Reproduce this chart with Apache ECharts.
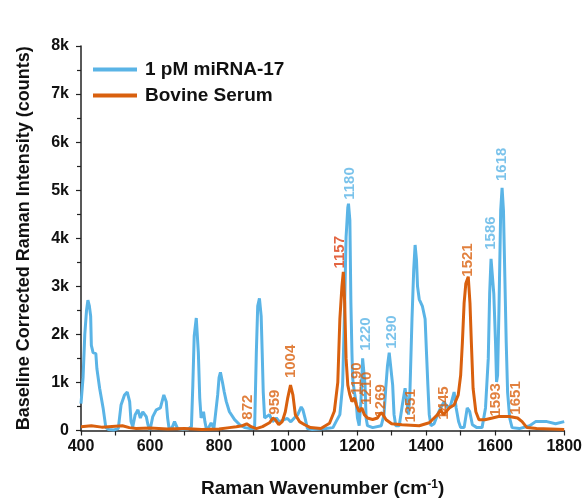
<!DOCTYPE html>
<html>
<head>
<meta charset="utf-8">
<script src="https://cdn.jsdelivr.net/npm/echarts@6/dist/echarts.min.js"></script>
<style>
html,body{margin:0;padding:0;background:#fff;}
#chart{width:585px;height:503px;}
</style>
</head>
<body>
<div id="chart"></div>
<script>
// ---- data ----
const seriesNames = ['1 pM miRNA-17', 'Bovine Serum'];

const miRNAWavenumber = [400,406,411,416,420,424,428,430,435,440,443,446,454,464,472,480,495,508,516,526,534,541,545,550,557,565,572,579,589,594,600,608,618,630,640,647,651,655,664,671,680,695,710,720,724,728,734,740,744,748,755,759,763,770,777,785,790,796,800,804,810,815,821,830,845,860,875,890,903,908,912,917,922,925,928,932,937,946,955,966,975,990,998,1008,1018,1028,1038,1043,1050,1056,1070,1090,1110,1130,1139,1150,1158,1163,1168,1173,1175,1179,1182,1185,1187,1192,1197,1201,1206,1211,1216,1219,1223,1226,1230,1245,1270,1278,1283,1288,1293,1297,1303,1307,1312,1322,1331,1339,1343,1349,1353,1359,1364,1368,1372,1375,1380,1389,1397,1401,1405,1409,1414,1423,1433,1442,1452,1462,1471,1481,1487,1494,1500,1510,1519,1526,1534,1547,1562,1572,1580,1584,1588,1592,1596,1601,1604,1607,1611,1616,1620,1624,1628,1632,1636,1642,1649,1670,1700,1717,1750,1775,1800];
const miRNACounts = [560,1100,2000,2500,2710,2600,2380,1770,1620,1580,1600,1290,880,470,60,20,10,40,530,740,800,600,185,80,330,430,260,390,290,120,10,290,430,470,740,600,260,50,60,185,40,20,30,80,945,1970,2340,1620,680,260,390,185,40,60,160,40,30,740,1100,1210,1000,800,600,390,225,120,60,40,40,1620,2590,2750,2380,1620,800,260,260,330,185,260,180,230,250,180,260,330,490,430,230,40,20,30,40,60,185,330,945,2320,4020,4640,4720,4370,2650,1620,1090,800,600,260,100,600,1500,1520,945,260,100,60,100,330,880,1350,1620,1580,945,330,100,100,530,880,840,330,800,2320,3350,3860,3550,3000,2730,2590,2320,1620,945,330,100,140,330,470,600,470,530,800,470,185,60,60,470,400,120,60,60,470,1500,2850,3570,3610,2850,1830,1010,1150,2520,4580,5050,4580,3200,1830,800,260,60,40,100,185,185,140,185];

const serumWavenumber = [400,430,460,500,520,540,560,600,650,700,750,800,830,850,868,880,893,908,926,946,956,962,973,983,992,999,1007,1014,1021,1033,1048,1065,1095,1120,1134,1144,1150,1156,1160,1164,1168,1173,1179,1185,1192,1198,1206,1214,1221,1230,1245,1259,1269,1275,1284,1300,1330,1380,1409,1423,1433,1442,1450,1467,1481,1493,1500,1505,1510,1515,1522,1527,1531,1536,1544,1553,1570,1592,1610,1640,1665,1678,1692,1720,1800];
const serumCounts = [80,100,70,90,100,60,40,50,30,40,20,30,60,80,100,140,80,40,80,160,260,230,120,185,390,680,945,740,330,185,120,60,40,150,400,1000,2320,3000,3300,2650,1500,945,740,600,680,530,390,470,330,260,230,260,370,330,225,140,120,100,160,260,330,430,330,470,530,740,1150,1830,2650,3060,3200,2650,1830,880,390,225,225,260,290,290,260,185,60,40,20];

// peak annotations: text, wavenumber where printed, intensity at label base
const miRNAPeakText = ['1180','1220','1290','1586','1618'];
const miRNAPeakX = [1178,1224,1302,1588,1620];
const miRNAPeakY = [4800,1660,1700,3760,5190];

const serumPeakText = ['872','959','1004','1157','1190','1210','1269','1351','1445','1521','1593','1651'];
const serumPeakX = [883,963,1007,1151,1198,1227,1270,1357,1452,1521,1602,1660];
const serumPeakY = [225,330,1090,3370,740,530,270,165,225,3200,290,330];

const xTicks = [400,600,800,1000,1200,1400,1600,1800];
const yTickLabels = ['0','1k','2k','3k','4k','5k','6k','7k','8k'];

// ---- build ----
const BLUE = '#5AB4E6';
const ORANGE = '#D9600E';
const RED_ORANGE = '#DC3F12';
const FONT = '"Liberation Sans", Arial, sans-serif';

function pairs(xs, ys){ return xs.map((x,i)=>[x, ys[i]]); }
function labelData(xs, ys, txt, special){
  return xs.map((x,i)=>{
    const d = {value:[x, ys[i]], name: txt[i]};
    if (special && special[txt[i]]) d.label = {color: special[txt[i]]};
    return d;
  });
}

const labelStyle = (color) => ({
  show: true,
  position: 'top',
  distance: 0,
  rotate: 90,
  align: 'left',
  verticalAlign: 'middle',
  formatter: p => p.name,
  color: color,
  fontFamily: FONT,
  fontSize: 15,
  fontWeight: 'bold'
});

const chart = echarts.init(document.getElementById('chart'), null, {renderer:'canvas'});
chart.setOption({
  animation: false,
  backgroundColor: '#fff',
  grid: {left: 81, right: 20, top: 46, bottom: 67, containLabel: false},
  legend: {
    data: seriesNames,
    orient: 'vertical',
    left: 88,
    top: 55,
    icon: 'rect',
    itemWidth: 44,
    itemHeight: 4,
    itemGap: 7,
    textStyle: {fontFamily: FONT, fontSize: 19, fontWeight: 'bold', color: '#111', padding: [0,0,0,3]}
  },
  xAxis: {
    type: 'value',
    min: 400, max: 1800, interval: 100,
    name: 'Raman Wavenumber (cm{sup|-1})',
    nameLocation: 'middle',
    nameGap: 48,
    nameTextStyle: {
      fontFamily: FONT, fontSize: 19, fontWeight: 'bold', color: '#111',
      rich: {sup: {fontFamily: FONT, fontSize: 12, fontWeight: 'bold', color: '#111', verticalAlign: 'top', padding:[0,0,8,0]}}
    },
    axisLine: {lineStyle: {color: '#222', width: 1.5}},
    axisTick: {show: true, inside: false, length: 5, lineStyle: {color: '#222', width: 1.2}},
    axisLabel: {
      formatter: v => xTicks.includes(v) ? String(v) : '',
      fontFamily: FONT, fontSize: 16, fontWeight: 'bold', color: '#111', margin: 8
    },
    splitLine: {show: false}
  },
  yAxis: {
    type: 'value',
    min: 0, max: 8000, interval: 1000,
    name: 'Baseline Corrected Raman Intensity (counts)',
    nameLocation: 'middle',
    nameGap: 48,
    nameTextStyle: {fontFamily: FONT, fontSize: 18, fontWeight: 'bold', color: '#111'},
    axisLine: {show: true, lineStyle: {color: '#222', width: 1.5}},
    axisTick: {show: true, length: 5, lineStyle: {color: '#222', width: 1.2}},
    minorTick: {show: true, splitNumber: 2, length: 4, lineStyle: {color: '#222', width: 1.2}},
    axisLabel: {
      formatter: v => yTickLabels[Math.round(v/1000)],
      fontFamily: FONT, fontSize: 16, fontWeight: 'bold', color: '#111', margin: 12
    },
    splitLine: {show: false}
  },
  series: [
    {name: seriesNames[0], type: 'line', data: pairs(miRNAWavenumber, miRNACounts), showSymbol: false, symbol: 'none',
     lineStyle: {color: BLUE, width: 3}, itemStyle: {color: BLUE}, z: 2},
    {name: seriesNames[1], type: 'line', data: pairs(serumWavenumber, serumCounts), showSymbol: false, symbol: 'none',
     lineStyle: {color: ORANGE, width: 3}, itemStyle: {color: ORANGE}, z: 3},
    {type: 'scatter', data: labelData(miRNAPeakX, miRNAPeakY, miRNAPeakText), symbolSize: 0,
     itemStyle: {color: BLUE}, label: labelStyle(BLUE), z: 4, silent: true},
    {type: 'scatter', data: labelData(serumPeakX, serumPeakY, serumPeakText, {'1157': RED_ORANGE}), symbolSize: 0,
     itemStyle: {color: ORANGE}, label: labelStyle(ORANGE), z: 4, silent: true}
  ]
});
</script>
</body>
</html>
